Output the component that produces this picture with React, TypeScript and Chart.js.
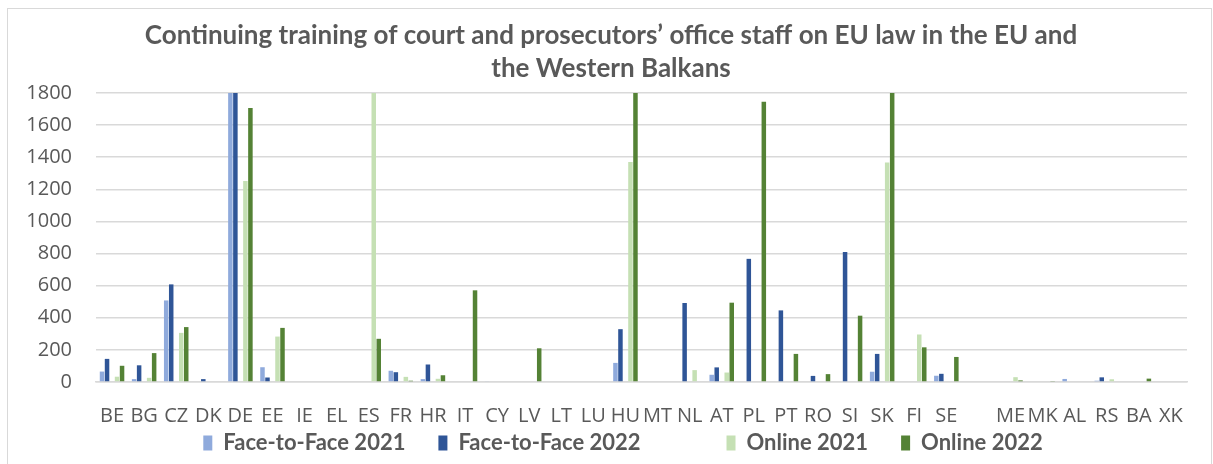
import React, { useEffect, useRef } from "react";
import { Chart, registerables } from "chart.js";

Chart.register(...registerables);

const titleLines = [
  "Continuing training of court and prosecutors’ office staff on EU law in the EU and",
  "the Western Balkans",
];

const categories = [
  "BE", "BG", "CZ", "DK", "DE", "EE", "IE", "EL", "ES", "FR",
  "HR", "IT", "CY", "LV", "LT", "LU", "HU", "MT", "NL", "AT",
  "PL", "PT", "RO", "SI", "SK", "FI", "SE", "",
  "ME", "MK", "AL", "RS", "BA", "XK",
];

const faceToFace2021 = [
  65, 18, 508, 0, 2300, 92, 0, 0, 0, 70,
  18, 0, 5, 0, 0, 0, 119, 0, 0, 45,
  0, 0, 0, 0, 64, 0, 39, null,
  0, 0, 19, 8, 0, 0,
];

const faceToFace2022 = [
  144, 104, 608, 18, 2200, 28, 0, 0, 0, 61,
  109, 0, 0, 0, 0, 0, 329, 0, 492, 91,
  767, 446, 38, 810, 175, 0, 51, null,
  0, 0, 0, 29, 0, 0,
];

const unnamedSeries = [
  null, null, null, null, null, null, null, null, null, null,
  null, null, null, null, null, null, null, null, null, null,
  null, null, null, null, null, null, null, null,
  null, null, null, null, null, null,
];

const online2021 = [
  33, 26, 306, 0, 1252, 283, 0, 0, 2000, 32,
  20, 0, 0, 0, 0, 0, 1371, 0, 74, 59,
  0, 0, 0, 0, 1367, 296, 0, null,
  30, 0, 0, 17, 0, 0,
];

const online2022 = [
  101, 180, 342, 0, 1706, 337, 0, 0, 269, 8,
  42, 571, 0, 210, 0, 0, 2100, 0, 0, 494,
  1746, 175, 49, 413, 2000, 216, 156, null,
  10, 6, 0, 0, 21, 0,
];

const yTickValues = [0, 200, 400, 600, 800, 1000, 1200, 1400, 1600, 1800];

const seriesLabels = ["Face-to-Face 2021", "Face-to-Face 2022", "", "Online 2021", "Online 2022"];
const seriesColors = ["#8FAADC", "#2F5597", "rgba(0,0,0,0)", "#C5E0B4", "#548235"];

const TEXT = "#595959";
const GRID = "#D9D9D9";
const W = 1213;
const H = 464;
const PLOT_LEFT = 96;
const PLOT_RIGHT = 1187;
const PLOT_BOTTOM = 382;
const LEGEND_PAD = 33;
const LEGEND_BOX_H = 40;

const boxShift = {
  id: "boxShift",
  afterLayout(chart: any) {
    const l = chart.legend;
    if (l) {
      l.left += 29.5;
      l.right += 29.5;
      l.top -= LEGEND_PAD - 8;
      l.bottom = H;
    }
    const t = chart.titleBlock;
    if (t) {
      t.left += 17.5;
      t.right += 17.5;
    }
  },
};

export default function App() {
  const ref = useRef<HTMLCanvasElement | null>(null);

  useEffect(() => {
    if (!ref.current) return;
    const seriesData = [faceToFace2021, faceToFace2022, unnamedSeries, online2021, online2022];
    const chart = new Chart(ref.current, {
      type: "bar",
      data: {
        labels: categories,
        datasets: seriesData.map((d, i) => ({
          label: seriesLabels[i],
          data: d,
          backgroundColor: seriesColors[i],
          borderColor: "rgba(0,0,0,0)",
          borderWidth: 0,
          barPercentage: 0.9,
          categoryPercentage: 0.78,
        })),
      },
      options: {
        responsive: false,
        animation: false,
        maintainAspectRatio: false,
        layout: { padding: { left: 0, right: W - PLOT_RIGHT, top: 0, bottom: 0 } },
        plugins: {
          title: {
            display: true,
            text: titleLines,
            color: TEXT,
            font: { family: "Lato, 'Open Sans', sans-serif", size: 26, weight: "bold", lineHeight: 33 / 26 },
            padding: { top: 19.5, bottom: 7.5 },
          },
          legend: {
            display: true,
            position: "bottom",
            maxHeight: LEGEND_BOX_H,
            labels: {
              color: TEXT,
              font: { family: "Lato, 'Open Sans', sans-serif", size: 22, weight: "bold" },
              boxWidth: 9,
              boxHeight: 15,
              padding: LEGEND_PAD,
            },
          },
          tooltip: { enabled: false },
        },
        scales: {
          x: {
            grid: { display: false },
            border: { display: true, color: GRID, width: 1.5 },
            ticks: {
              color: TEXT,
              font: { family: "'Open Sans', sans-serif", size: 20 },
              autoSkip: false,
              maxRotation: 0,
              minRotation: 0,
              padding: 14.5,
            },
            afterFit(s: any) {
              s.height = H - LEGEND_BOX_H - PLOT_BOTTOM;
            },
          },
          y: {
            min: 0,
            max: 1800,
            grid: { color: GRID, lineWidth: 1.5, drawTicks: false },
            border: { display: false },
            ticks: {
              color: TEXT,
              font: { family: "'Open Sans', sans-serif", size: 20 },
              padding: 24,
              callback: (v: any) => String(v),
            },
            afterBuildTicks(s: any) {
              s.ticks = yTickValues.map((v) => ({ value: v }));
            },
            afterFit(s: any) {
              s.width = PLOT_LEFT;
            },
          },
        },
      },
      plugins: [boxShift],
    });
    return () => chart.destroy();
  }, []);

  return (
    <div style={{ position: "absolute", left: 0, top: 0, width: W, height: H, overflow: "hidden", background: "#fff" }}>
      <canvas ref={ref} width={W} height={H} style={{ display: "block", width: W, height: H }} />
      <div
        style={{
          position: "absolute",
          left: 7,
          top: 8,
          width: 1203,
          height: 480,
          border: "1px solid #D9D9D9",
          pointerEvents: "none",
        }}
      />
    </div>
  );
}
